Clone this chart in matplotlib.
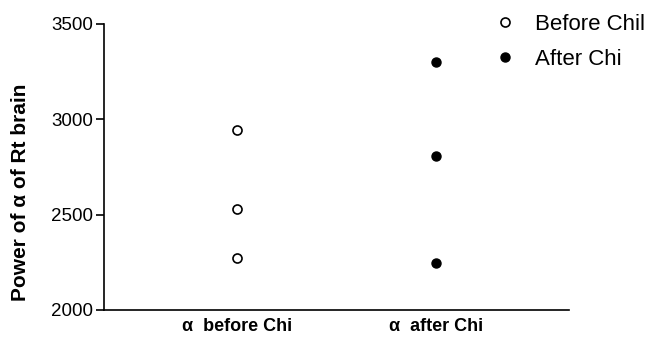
import matplotlib
matplotlib.use('Agg')
import matplotlib.pyplot as plt

plt.rcParams['font.family'] = ['Liberation Sans', 'DejaVu Sans']

# values
groups = ['\u03b1  before Chi', '\u03b1  after Chi']
before_chi = [2944, 2530, 2273]
after_chi = [3301, 2808, 2247]

fig = plt.figure(figsize=(6.63, 3.41), dpi=100)
ax = fig.add_axes([0.157, 0.091, 0.701, 0.839])

ax.plot([0] * len(before_chi), before_chi, 'o', mfc='white', mec='black',
        mew=1.2, ms=6.5, linestyle='none', label='Before Chil')
ax.plot([1] * len(after_chi), after_chi, 'o', color='black',
        ms=6.5, linestyle='none', label='After Chi')

ax.set_xlim(-0.668, 1.668)
ax.set_ylim(2000, 3500)
ax.set_yticks([2000, 2500, 3000, 3500])
ax.set_xticks([0, 1])
ax.set_xticklabels(groups, fontweight='bold', fontsize=13)
ax.tick_params(axis='x', length=0, pad=6)
ax.tick_params(axis='y', labelsize=13.5, length=6, width=1.2, direction='out', pad=2)
ax.set_ylabel('Power of \u03b1 of Rt brain', fontweight='bold', fontsize=15)
ax.yaxis.set_label_coords(-0.159, 0.411)

for s in ['top', 'right']:
    ax.spines[s].set_visible(False)
for s in ['left', 'bottom']:
    ax.spines[s].set_linewidth(1.2)

ax.legend(loc='upper left', bbox_to_anchor=(0.839, 1.035), frameon=False,
          fontsize=16, handlelength=1.0, handletextpad=0.85, labelspacing=0.64,
          borderpad=0, borderaxespad=0)

fig.savefig('out.png', dpi=100)
